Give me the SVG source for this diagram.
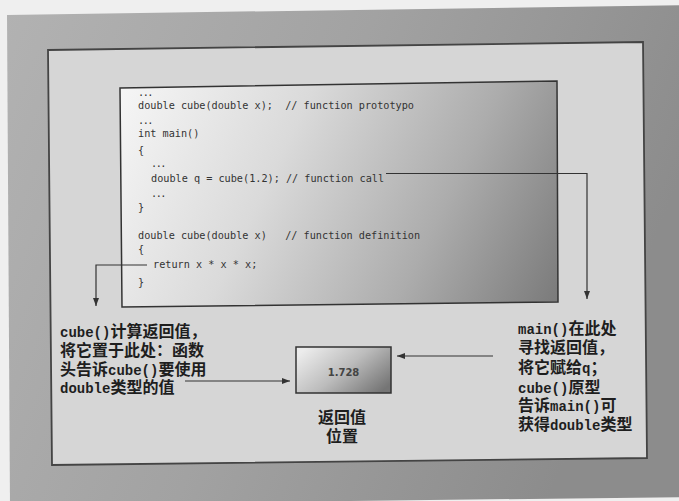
<svg xmlns="http://www.w3.org/2000/svg" width="679" height="501" viewBox="0 0 679 501">
  <defs>
    <linearGradient id="gFrame" x1="0" y1="0" x2="1" y2="0.3">
      <stop offset="0" stop-color="#b2b2b2"/>
      <stop offset="0.5" stop-color="#a2a2a2"/>
      <stop offset="1" stop-color="#8c8c8c"/>
    </linearGradient>
    <linearGradient id="gCode" gradientUnits="userSpaceOnUse" x1="125" y1="90" x2="560" y2="300">
      <stop offset="0" stop-color="#f5f5f5"/>
      <stop offset="0.35" stop-color="#dadada"/>
      <stop offset="0.7" stop-color="#acacac"/>
      <stop offset="1" stop-color="#7a7a7a"/>
    </linearGradient>
    <linearGradient id="gVal" x1="0" y1="0.2" x2="1" y2="0.8">
      <stop offset="0" stop-color="#ececec"/>
      <stop offset="0.5" stop-color="#bcbcbc"/>
      <stop offset="1" stop-color="#757575"/>
    </linearGradient>
    <marker id="arr" markerUnits="userSpaceOnUse" markerWidth="9" markerHeight="7" refX="8" refY="3" orient="auto">
      <path d="M0,0 L8,3 L0,6 z" fill="#333"/>
    </marker>
    <style>
      .code { font-family: "DejaVu Sans Mono", "Liberation Mono", monospace; font-size: 10.2px; fill: #333; white-space: pre; }
      .dots { letter-spacing: -1.5px; }
      .cjk { font-family: "Liberation Serif", "Noto Sans CJK SC", serif; font-size: 16px; font-weight: bold; fill: #1e1e1e; }
      .lat { font-family: "Liberation Mono", "DejaVu Sans Mono", monospace; font-size: 14px; font-weight: bold; }
      .conn { fill: none; stroke: #333; stroke-width: 1.2; }
      .box { stroke: #333; stroke-width: 1.5; }
    </style>
  </defs>

  <rect x="0" y="0" width="679" height="501" fill="#efefef"/>
  <g id="frame">
    <polygon points="7,15 690,5 690,497 10,505" fill="url(#gFrame)"/>
    <polygon points="48,50 643,42 647,458 52,465" fill="#d6d6d6" stroke="#444" stroke-width="1.8"/>
  </g>

  <g id="code-box">
    <polygon class="box" points="120,88 557,81 558,302 122,307" fill="url(#gCode)"/>
    <text class="code" xml:space="preserve"><tspan class="dots" x="138" y="96">...</tspan><tspan x="138" y="109">double cube(double x);  // function prototypo</tspan><tspan class="dots" x="138" y="124">...</tspan><tspan x="138" y="137">int main()</tspan><tspan x="138" y="154">{</tspan><tspan class="dots" x="151" y="166.5">...</tspan><tspan x="151" y="181.5">double q = cube(1.2); // function call</tspan><tspan class="dots" x="151" y="197">...</tspan><tspan x="138" y="211">}</tspan><tspan x="138" y="239">double cube(double x)   // function definition</tspan><tspan x="138" y="253">{</tspan><tspan x="153" y="268">return x * x * x;</tspan><tspan x="138" y="286">}</tspan></text>
  </g>

  <g id="return-value-box">
    <rect class="box" x="296" y="347" width="95" height="46" fill="url(#gVal)"/>
    <text x="343.5" y="376" text-anchor="middle" font-family="DejaVu Sans, Liberation Sans, sans-serif" font-size="10" font-weight="bold" fill="#444">1.728</text>
  </g>

  <g id="label-value">
    <text class="cjk" text-anchor="middle"><tspan x="342" y="423">返回值</tspan><tspan x="342" y="442">位置</tspan></text>
  </g>

  <g id="label-left">
    <text class="cjk"><tspan x="60" y="337"><tspan class="lat">cube()</tspan>计算返回值，</tspan><tspan x="60" y="356">将它置于此处：函数</tspan><tspan x="60" y="374.5">头告诉<tspan class="lat">cube()</tspan>要使用</tspan><tspan x="60" y="393"><tspan class="lat">double</tspan>类型的值</tspan></text>
  </g>

  <g id="label-right">
    <text class="cjk"><tspan x="518" y="334"><tspan class="lat">main()</tspan>在此处</tspan><tspan x="518" y="353">寻找返回值，</tspan><tspan x="518" y="373">将它赋给<tspan class="lat">q</tspan>；</tspan><tspan x="518" y="392.5"><tspan class="lat">cube()</tspan>原型</tspan><tspan x="518" y="411">告诉<tspan class="lat">main()</tspan>可</tspan><tspan x="518" y="429.5">获得<tspan class="lat">double</tspan>类型</tspan></text>
  </g>

  <g id="connectors">
    <polyline class="conn" points="386,173.5 587,173.5 587,299" marker-end="url(#arr)"/>
    <polyline class="conn" points="147,265 96,265 96,306" marker-end="url(#arr)"/>
    <line class="conn" x1="185" y1="381" x2="290" y2="381" marker-end="url(#arr)"/>
    <line class="conn" x1="493" y1="356" x2="397" y2="356" marker-end="url(#arr)"/>
  </g>
</svg>
